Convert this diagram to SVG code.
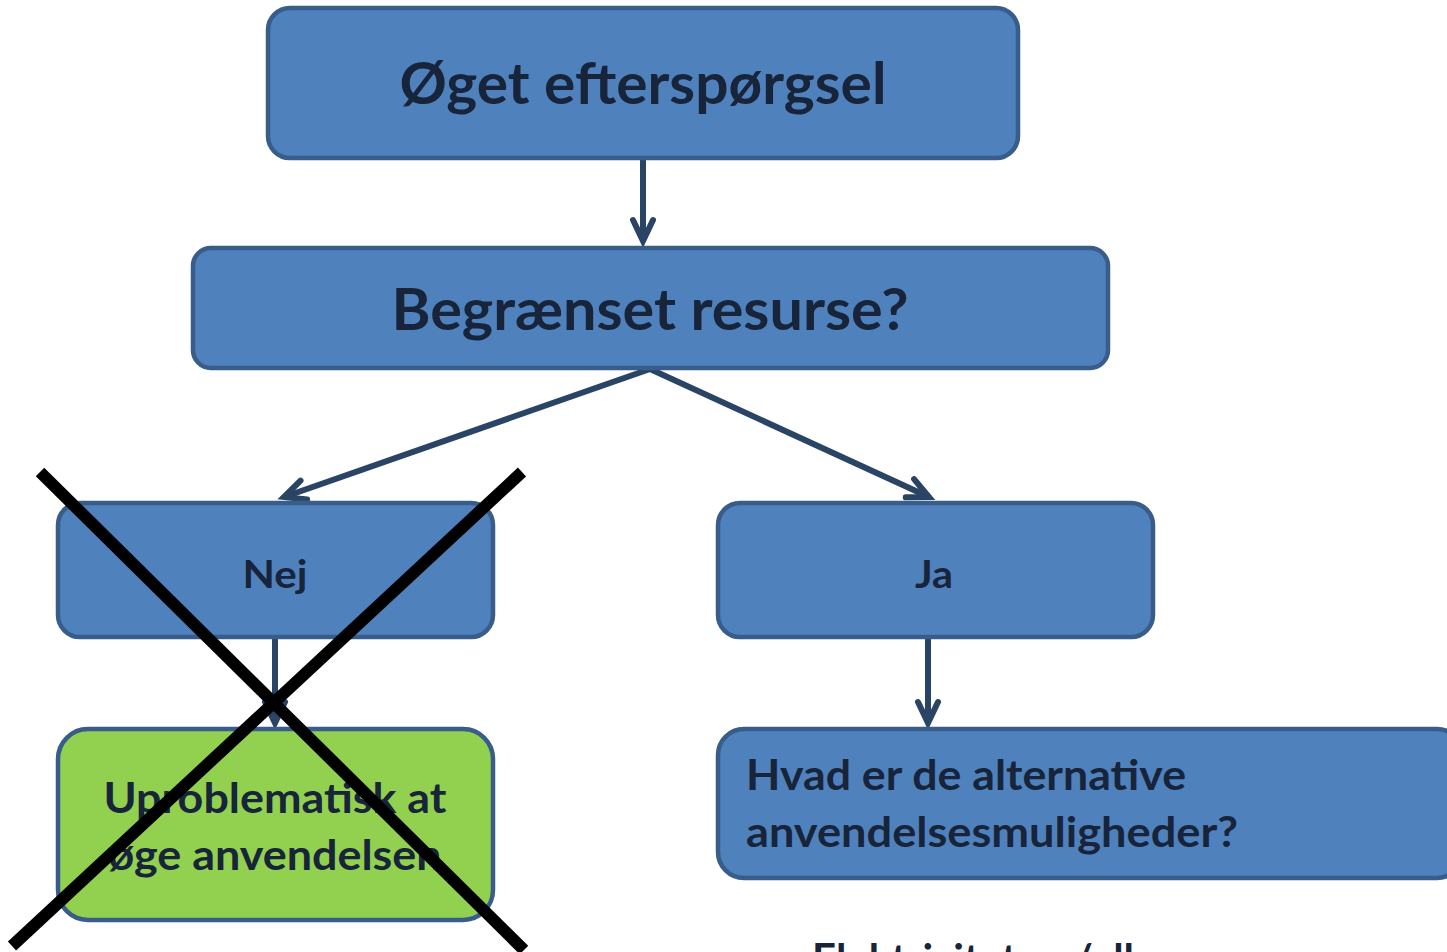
<svg xmlns="http://www.w3.org/2000/svg" width="1447" height="952" viewBox="0 0 1447 952">
<style>
.box{fill:#4F81BD;stroke:#385D8A;stroke-width:4.5}
.green{fill:#92D050;stroke:#385D8A;stroke-width:4.5}
.t{font-family:Lato,"Open Sans","Liberation Sans",sans-serif;font-weight:bold;fill:#17243A}
.conn{stroke:#2A4466;stroke-width:6;fill:none}
.x{stroke:#000;stroke-width:12;stroke-linecap:butt}
</style>
<defs>
<marker id="arr" markerUnits="userSpaceOnUse" markerWidth="40" markerHeight="40" viewBox="-30 -20 40 40" refX="0" refY="0" orient="auto">
<path d="M-21,-10 L0,0 L-21,10" fill="none" stroke="#2A4466" stroke-width="6" stroke-linecap="round" stroke-linejoin="miter"/>
</marker>
</defs>
<rect width="1447" height="952" fill="#fff"/>
<g id="connectors">
<line class="conn" x1="643" y1="158" x2="643" y2="241" marker-end="url(#arr)"/>
<line class="conn" x1="650" y1="369" x2="284" y2="497" marker-end="url(#arr)"/>
<line class="conn" x1="650" y1="369" x2="929" y2="497" marker-end="url(#arr)"/>
<line class="conn" x1="275" y1="638" x2="275" y2="723" marker-end="url(#arr)"/>
<line class="conn" x1="928" y1="638" x2="928" y2="723" marker-end="url(#arr)"/>
</g>
<g id="n1">
<rect class="box" x="268" y="8" width="750" height="150" rx="22"/>
<text class="t" x="643" y="104" font-size="58" text-anchor="middle" textLength="487" lengthAdjust="spacingAndGlyphs">Øget efterspørgsel</text>
</g>
<g id="n2">
<rect class="box" x="193" y="248" width="915" height="120" rx="18"/>
<text class="t" x="650" y="330" font-size="58" text-anchor="middle" textLength="517" lengthAdjust="spacingAndGlyphs">Begrænset resurse?</text>
</g>
<g id="nej">
<rect class="box" x="58" y="503" width="435" height="134" rx="22"/>
<text class="t" x="275" y="588" font-size="39" text-anchor="middle" textLength="65" lengthAdjust="spacingAndGlyphs">Nej</text>
</g>
<g id="ja">
<rect class="box" x="718" y="503" width="435" height="134" rx="22"/>
<text class="t" x="934" y="588" font-size="39" text-anchor="middle" textLength="38" lengthAdjust="spacingAndGlyphs">Ja</text>
</g>
<g id="uproblematisk">
<rect class="green" x="58" y="729" width="435" height="191" rx="30"/>
<text class="t" x="275" y="813" font-size="42" text-anchor="middle" textLength="343" lengthAdjust="spacingAndGlyphs">Uproblematisk at</text>
<text class="t" x="275" y="870" font-size="42" text-anchor="middle" textLength="333" lengthAdjust="spacingAndGlyphs">øge anvendelsen</text>
</g>
<g id="hvad">
<rect class="box" x="718" y="729" width="745" height="149" rx="26"/>
<text class="t" x="746" y="790" font-size="42" textLength="440" lengthAdjust="spacingAndGlyphs">Hvad er de alternative</text>
<text class="t" x="746" y="847" font-size="42" textLength="492" lengthAdjust="spacingAndGlyphs">anvendelsesmuligheder?</text>
</g>
<g id="elektricitet">
<text class="t" x="812" y="974" font-size="42" textLength="360" lengthAdjust="spacingAndGlyphs">Elektricitet og/eller</text>
</g>
<g id="cross">
<line class="x" x1="40" y1="472" x2="524" y2="950"/>
<line class="x" x1="522" y1="472" x2="12" y2="946"/>
</g>
</svg>
